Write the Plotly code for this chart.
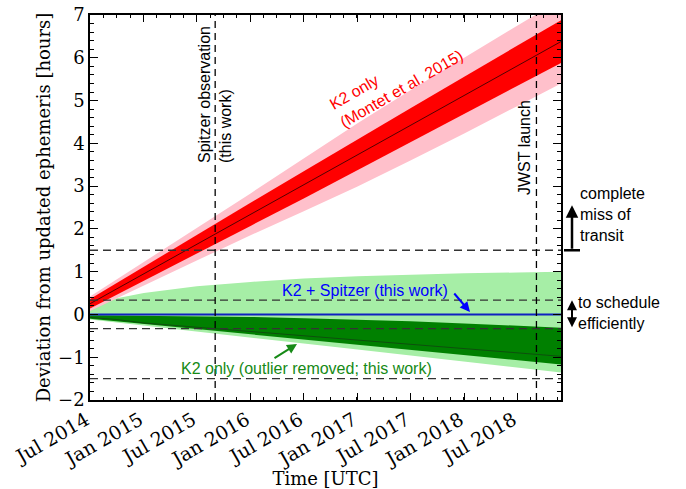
import plotly.graph_objects as go

# ---------------- data ----------------
dates = ["2014-07-01", "2014-10-01", "2015-01-01", "2015-07-01", "2016-01-01",
         "2016-07-01", "2017-01-01", "2017-07-01", "2018-01-01", "2018-07-01",
         "2018-11-28"]

# K2 only (Montet et al. 2015)
red_mid   = [0.25, 0.60, 0.95, 1.64, 2.34, 3.03, 3.73, 4.42, 5.12, 5.81, 6.38]
red_1s_hi = [0.36, 0.74, 1.12, 1.86, 2.61, 3.35, 4.10, 4.82, 5.56, 6.28, 6.88]
red_1s_lo = [0.14, 0.46, 0.79, 1.42, 2.07, 2.71, 3.36, 4.02, 4.68, 5.34, 5.88]
red_2s_hi = [0.42, 0.82, 1.23, 2.02, 2.83, 3.65, 4.47, 5.24, 6.01, 6.75, 7.36]
red_2s_lo = [0.08, 0.38, 0.67, 1.26, 1.85, 2.41, 2.99, 3.60, 4.23, 4.87, 5.40]

# light green envelope
green_lt_hi = [0.15, 0.38, 0.50, 0.66, 0.76, 0.84, 0.89, 0.93, 0.96, 0.98, 1.00]
green_lt_lo = [-0.12, -0.19, -0.26, -0.40, -0.54, -0.68, -0.82, -0.96, -1.10, -1.24, -1.36]
# K2 only (outlier removed; this work)
green_dk_hi = [-0.02, -0.025, -0.03, -0.04, -0.06, -0.09, -0.12, -0.16, -0.21, -0.26, -0.31]
green_dk_lo = [-0.10, -0.16, -0.22, -0.35, -0.47, -0.59, -0.71, -0.84, -0.96, -1.07, -1.17]
green_mid   = [-0.07, -0.12, -0.20, -0.30, -0.40, -0.50, -0.60, -0.70, -0.80, -0.90, -0.98]

# K2 + Spitzer (this work): updated ephemeris
k2_spitzer = [0.0, 0.0, 0.0, 0.0, 0.0, 0.0, 0.0, 0.0, 0.0, 0.0, 0.0]

hlines = [1.5, 1 / 3, -1 / 3, -1.5]          # hours
spitzer_date = "2015-09-02"
jwst_date = "2018-09-05"
x_range = ["2014-06-30 20:00", "2018-11-28"]
y_range = [-2.001, 7.001]
miss_level = [1.5, 2.55]                     # complete miss of transit arrow
sched_level = [1 / 3, -1 / 3]                # schedule efficiently arrow

# ---------------- figure ----------------
W, H = 686, 489
L, R, T, B = 90, 125, 15, 89
PW, PH = W - L - R, H - T - B
PX_PER_HOUR = PH / (y_range[1] - y_range[0])


def px(x):
    return (x - L) / PW


def py(y):
    return (H - B - y) / PH


fig = go.Figure()


def band(lo, hi, color):
    fig.add_trace(go.Scatter(x=dates + dates[::-1], y=hi + lo[::-1],
                             fill="toself", fillcolor=color, mode="lines",
                             line=dict(width=0), hoverinfo="skip",
                             showlegend=False))


def line(y, color, width):
    fig.add_trace(go.Scatter(x=dates, y=y, mode="lines",
                             line=dict(color=color, width=width),
                             hoverinfo="skip", showlegend=False))


band(green_lt_lo, green_lt_hi, "#a6eea6")
band(green_dk_lo, green_dk_hi, "#008000")
line(green_mid, "#104a10", 0.9)
line(k2_spitzer, "#1020c0", 2)
band(red_2s_lo, red_2s_hi, "#ffc0cb")
band(red_1s_lo, red_1s_hi, "#ff0000")
line(red_mid, "#400000", 0.9)

shapes = []
for h in hlines:
    shapes.append(dict(type="line", xref="paper", yref="y", x0=0, x1=1, y0=h, y1=h,
                       line=dict(color="#333333", width=1.3, dash="8px,5px")))
for d in (spitzer_date, jwst_date):
    shapes.append(dict(type="line", xref="x", yref="paper", x0=d, x1=d, y0=0, y1=1,
                       line=dict(color="black", width=1.3, dash="7px,5px")))
# bar at base of "complete miss" arrow
shapes.append(dict(type="line", xref="paper", yref="y", x0=px(564), x1=px(580),
                   y0=miss_level[0], y1=miss_level[0],
                   line=dict(color="black", width=2.5)))

sans = "Liberation Sans, Arial, sans-serif"
serif = "DejaVu Serif, serif"
C = dict(xanchor="center", yanchor="middle", showarrow=False)
ann = []
ann.append(dict(xref="paper", yref="paper", x=px(396), y=py(80), **C,
                text="K2 only<br>(Montet et al. 2015)", textangle=-30, align="left",
                font=dict(family=sans, size=16, color="#ff0000")))
ann.append(dict(xref="paper", yref="paper", x=px(215), y=py(95), **C,
                text="Spitzer observation<br>(this work)", textangle=-90, align="left",
                font=dict(family=sans, size=16, color="black")))
ann.append(dict(xref="paper", yref="paper", x=px(524), y=py(148), **C,
                text="JWST launch", textangle=-90,
                font=dict(family=sans, size=16, color="black")))
ann.append(dict(xref="paper", yref="paper", x=px(365), y=py(290), **C,
                text="K2 + Spitzer (this work)",
                font=dict(family=sans, size=16, color="#0000ff")))
ann.append(dict(xref="paper", yref="paper", x=px(470), y=py(312), ax=-17, ay=-20,
                text="", showarrow=True, arrowhead=2, arrowsize=1, arrowwidth=2,
                arrowcolor="#0000ff"))
ann.append(dict(xref="paper", yref="paper", x=px(306), y=py(368), **C,
                text="K2 only (outlier removed; this work)",
                font=dict(family=sans, size=16, color="#168a16")))
ann.append(dict(xref="paper", yref="paper", x=px(297), y=py(344), ax=-24, ay=15,
                text="", showarrow=True, arrowhead=2, arrowsize=1, arrowwidth=2,
                arrowcolor="#168a16"))
# right-hand notes
ann.append(dict(xref="paper", yref="paper", x=px(578), y=py(215), xanchor="left",
                yanchor="middle", showarrow=False,
                text="complete<br>miss of<br>transit", align="left",
                font=dict(family=sans, size=16, color="black")))
ann.append(dict(xref="paper", yref="y", x=px(572), y=miss_level[1],
                ax=0, ay=(miss_level[1] - miss_level[0]) * PX_PER_HOUR,
                text="", showarrow=True, arrowhead=2, arrowsize=1, arrowwidth=2.5,
                arrowcolor="black", standoff=0, startstandoff=0))
ann.append(dict(xref="paper", yref="paper", x=px(576), y=py(313), xanchor="left",
                yanchor="middle", showarrow=False,
                text="to schedule<br>efficiently", align="left",
                font=dict(family=sans, size=16, color="black")))
ann.append(dict(xref="paper", yref="y", x=px(572), y=sched_level[0],
                ax=0, ay=(sched_level[0] - sched_level[1]) * PX_PER_HOUR,
                text="", showarrow=True, arrowhead=2, arrowside="end+start",
                arrowsize=1, arrowwidth=2, arrowcolor="black"))

fig.update_layout(
    width=W, height=H, margin=dict(l=L, r=R, t=T, b=B),
    paper_bgcolor="white", plot_bgcolor="white",
    shapes=shapes, annotations=ann, showlegend=False,
)
fig.update_xaxes(
    type="date", range=x_range, tickmode="linear", tick0="2014-07-01", dtick="M6",
    tickformat="%b %Y", tickangle=-30, ticks="inside", ticklen=7, tickwidth=1,
    tickcolor="black", showline=True, linecolor="black", linewidth=1.5,
    mirror="ticks", showgrid=False, zeroline=False, automargin=False,
    ticklabelshift=-4,
    minor=dict(ticks="inside", ticklen=3.5, dtick=3944160000, tick0="2014-07-01",
               tickcolor="black", showgrid=False),
    tickfont=dict(family=serif, size=19, color="black"),
    title=dict(text="Time [UTC]", font=dict(family=serif, size=18, color="black"),
               standoff=2),
)
fig.update_yaxes(
    range=y_range, tickmode="linear", tick0=0, dtick=1, ticks="inside", ticklen=8,
    tickwidth=1, tickcolor="black", showline=True, linecolor="black", linewidth=1.5,
    mirror="ticks", showgrid=False, zeroline=False, automargin=False,
    minor=dict(ticks="inside", ticklen=4, dtick=0.2, tickcolor="black", showgrid=False),
    tickfont=dict(family=serif, size=18, color="black"),
    title=dict(text="Deviation from updated ephemeris [hours]",
               font=dict(family=serif, size=18, color="black"), standoff=3),
)

fig.write_html("out.html")
